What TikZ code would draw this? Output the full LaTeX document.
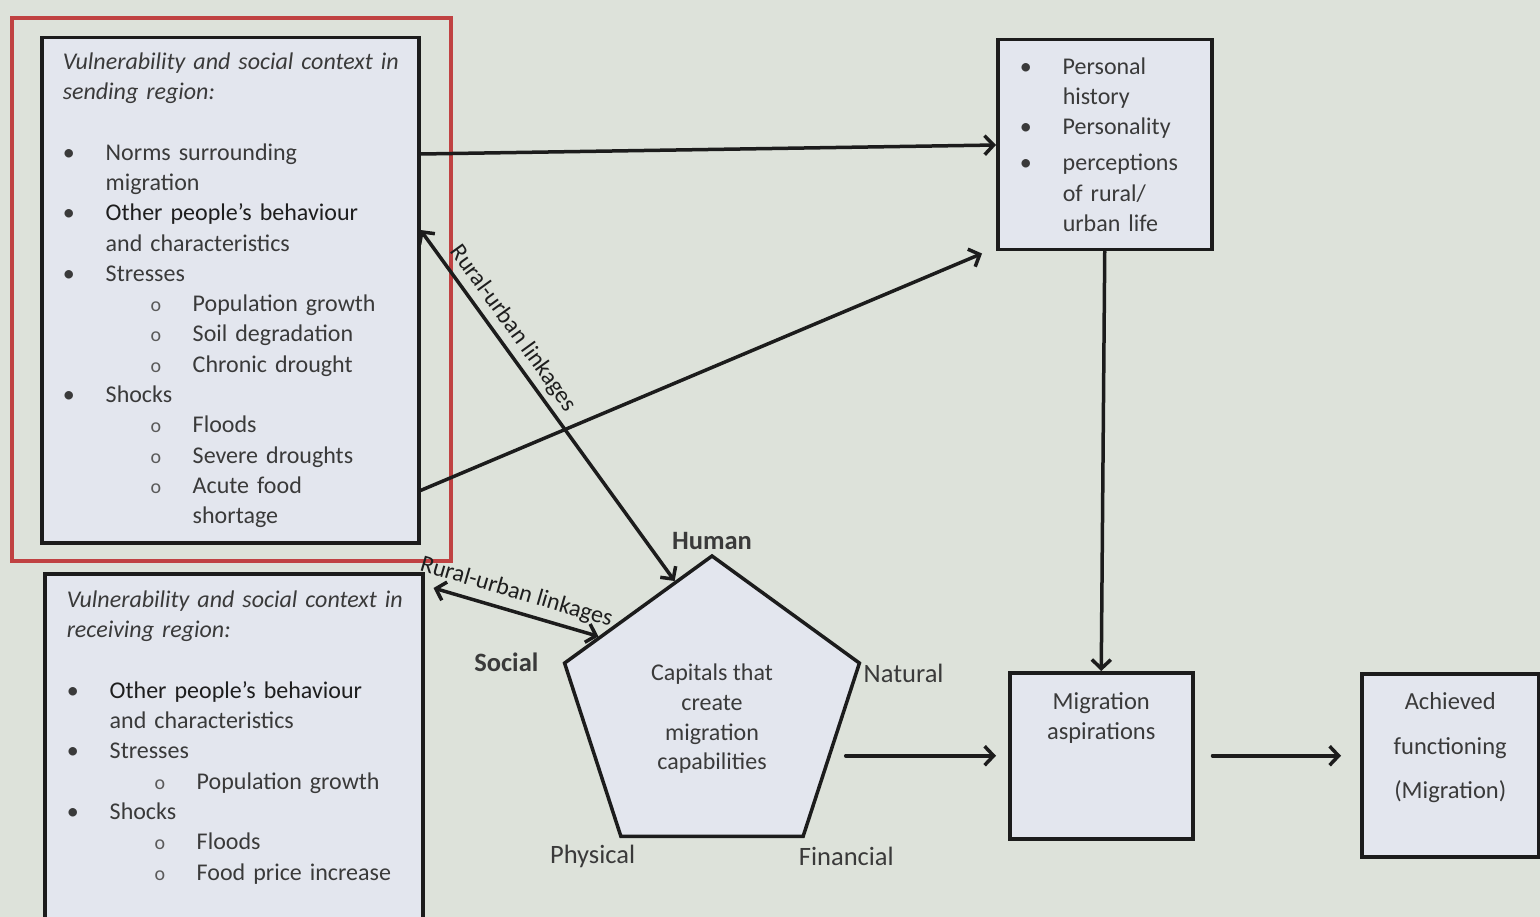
\documentclass[tikz,border=0pt]{standalone}
\usepackage{fontspec}
\setmainfont{Carlito}
\usepackage{xcolor}
\definecolor{pagebg}{RGB}{221,226,218}
\definecolor{boxfill}{RGB}{227,230,238}
\definecolor{inkline}{RGB}{28,28,28}
\definecolor{inkgrey}{RGB}{58,58,58}
\definecolor{inkdark}{RGB}{30,30,30}
\definecolor{inksub}{RGB}{90,90,90}
\definecolor{hlred}{RGB}{192,66,66}
\usepackage{tikz}
\usetikzlibrary{shapes.geometric, arrows.meta, positioning, calc}

\newcommand{\lbul}[1]{\makebox[43pt][l]{\textbullet}#1}
\newcommand{\lcont}[1]{\hspace*{43pt}#1}
\newcommand{\lsub}[1]{\hspace*{88pt}\makebox[42pt][l]{\fontsize{20}{20}\selectfont\color{inksub}o}#1}

\begin{document}
\begin{tikzpicture}[
    x=1pt, y=-1pt,
    ctxbox/.style={rectangle, draw=inkline, line width=3.5pt, fill=boxfill, text=inkgrey,
                   font=\fontsize{24}{30.3}\selectfont, align=left, anchor=north west,
                   inner xsep=21pt, inner ysep=0pt},
    flowbox/.style={rectangle, draw=inkline, line width=3.5pt, fill=boxfill, text=inkgrey,
                    font=\fontsize{24.5}{30.3}\selectfont, anchor=north west, inner sep=0pt},
    capshape/.style={regular polygon, regular polygon sides=5, minimum size=310pt, inner sep=0pt,
                     draw=inkline, line width=3.5pt, fill=boxfill},
    caplbl/.style={font=\fontsize{26.5}{30}\selectfont, text=inkgrey, inner sep=2pt},
    linklbl/.style={font=\fontsize{24}{28}\selectfont, text=inkdark, sloped, inner sep=3pt},
    arr/.style={-{Straight Barb[length=9pt,width=19pt]}, line width=3.5pt, draw=inkline, line cap=round},
    dblarr/.style={arr, {Straight Barb[length=9pt,width=19pt]}-{Straight Barb[length=9pt,width=19pt]}},
    hilite/.style={draw=hlred, line width=4pt},
]

\useasboundingbox (0,0) rectangle (1540,917);
\fill[pagebg] (0,0) rectangle (1540,917);
\clip (0,0) rectangle (1540,917);

\node[ctxbox, text width=335pt, minimum width=377pt, minimum height=505pt] (sendbox) at (40,36) {
\mbox{\textit{Vulnerability and social context in}}\\
\textit{sending region:}\\
\mbox{}\\
\lbul{Norms surrounding}\\
\lcont{migration}\\
\lbul{\textcolor{inkdark}{Other people's behaviour}}\\
\lcont{and characteristics}\\
\lbul{Stresses}\\
\lsub{Population growth}\\
\lsub{Soil degradation}\\
\lsub{Chronic drought}\\
\lbul{Shocks}\\
\lsub{Floods}\\
\lsub{Severe droughts}\\
\lsub{Acute food}\\
\hspace*{130pt}shortage};

\draw[hilite] ($(sendbox.north west)+(-28,-18)$) rectangle ($(sendbox.south east)+(30,16)$);

\node[ctxbox, text width=334pt, minimum width=378pt, inner xsep=22pt, inner ysep=17pt] (recvbox) at (43,572) {
\mbox{\textit{Vulnerability and social context in}}\\
\textit{receiving region:}\\
\mbox{}\\
\lbul{\textcolor{inkdark}{Other people's behaviour}}\\
\lcont{and characteristics}\\
\lbul{Stresses}\\
\lsub{Population growth}\\
\lbul{Shocks}\\
\lsub{Floods}\\
\lsub{Food price increase}\\
\mbox{}\\
\mbox{}};

\node[ctxbox, text width=170pt, minimum width=214pt, minimum height=210pt, inner xsep=22pt] (perbox) at (996,38) {
\lbul{Personal}\\
\lcont{history}\\
\lbul{Personality}\\[5.7pt]
\lbul{perceptions}\\
\lcont{of rural/}\\
\lcont{urban life}};

\node[flowbox] (aspbox) at (1008,671) {\parbox[c][166pt][t]{183pt}{\centering\vspace*{20pt}Migration\\aspirations}};

\node[flowbox] (achbox) at (1360,672) {\parbox[c][183pt][t]{177pt}{\centering\vspace*{19pt}Achieved\\[14.2pt]functioning\\[14.2pt](Migration)}};

\node[capshape] (capital) at (712,711) {};
\node[font=\fontsize{24}{29.7}\selectfont, text=inkgrey, align=center] (captext) at ([yshift=-8pt]capital.center) {Capitals that\\create\\migration\\capabilities};

\node[caplbl, above=2pt of capital.corner 1] (human) {\textbf{Human}};
\node[caplbl, left=22pt of capital.corner 2] (social) {\textbf{Social}};
\node[caplbl, below right=-1pt and 0pt of capital.corner 5] (natural) {Natural};
\node[caplbl, below=5pt of capital.corner 3, xshift=-27pt] (physical) {Physical};
\node[caplbl, below=7pt of capital.corner 4, xshift=42pt] (financial) {Financial};

\draw[arr] ($(sendbox.north east)+(0,118)$) -- ($(perbox.north west)+(0,107)$);
\draw[arr] ($(sendbox.south east)+(0,-54)$) -- ($(perbox.south west)+(-14,2)$);
\draw[dblarr] ($(sendbox.north east)+(0,194)$) -- node[linklbl, pos=0.31, above=2pt] (linkup) {Rural-urban linkages} ($(capital.corner 1)!0.25!(capital.corner 2)$);
\draw[dblarr] ($(recvbox.north east)+(9,16)$) -- node[linklbl, pos=0.47, above=4pt] (linklow) {Rural-urban linkages} ($(capital.corner 1)!0.76!(capital.corner 2)$);
\draw[arr] (perbox.south) -- (aspbox.north);
\draw[arr, shorten >=12pt] (aspbox.west -| capital.east) -- (aspbox.west);
\draw[arr, shorten <=18pt, shorten >=19pt] (aspbox.east) -- (aspbox.east -| achbox.west);

\end{tikzpicture}
\end{document}
